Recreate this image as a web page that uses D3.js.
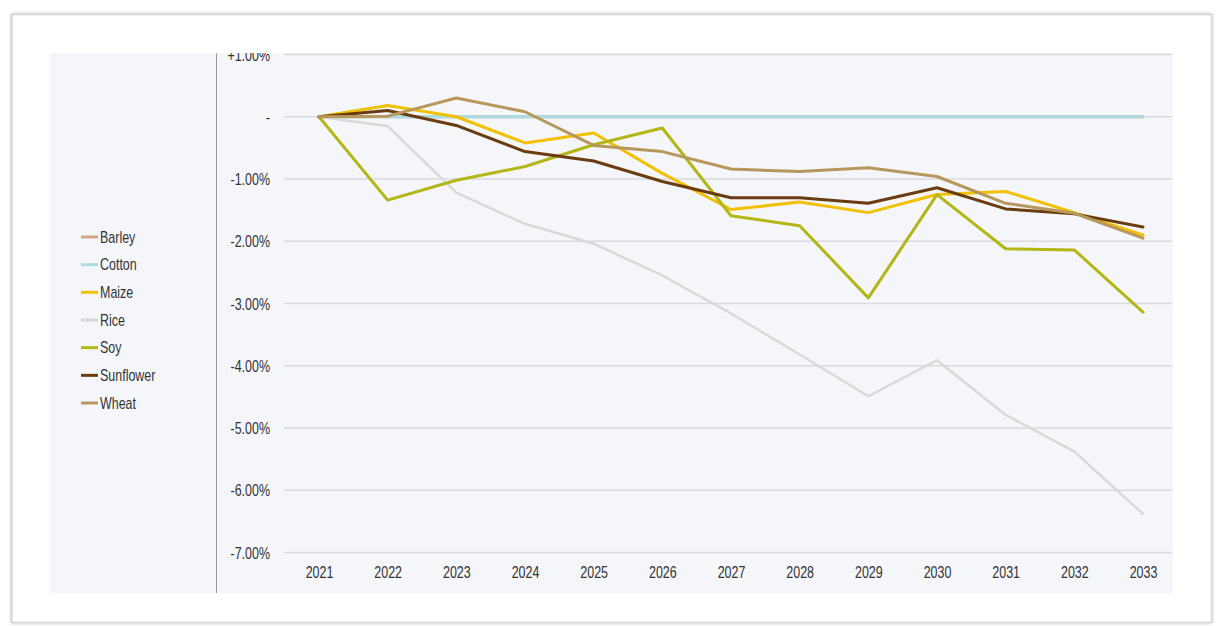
<!DOCTYPE html>
<html>
<head>
<meta charset="utf-8">
<script src="https://cdn.jsdelivr.net/npm/d3@7"></script>
<style>
  html, body { margin: 0; padding: 0; background: #ffffff; }
  svg { display: block; }
  text { font-family: "Liberation Sans", Arial, sans-serif; fill: #333333; }
</style>
</head>
<body>
<svg id="chart" width="1218" height="626"></svg>
<script>
// Years along the horizontal axis
const years = [2021, 2022, 2023, 2024, 2025, 2026, 2027, 2028, 2029, 2030, 2031, 2032, 2033];

// Percentage change per crop (in %)
const barley    = [0, 0, 0, 0, 0, 0, 0, 0, 0, 0, 0, 0, 0];
const cotton    = [0, 0, 0, 0, 0, 0, 0, 0, 0, 0, 0, 0, 0];
const maize     = [0, 0.18, 0.00, -0.42, -0.26, -0.91, -1.49, -1.37, -1.54, -1.25, -1.20, -1.54, -1.90];
const rice      = [0, -0.15, -1.22, -1.72, -2.04, -2.55, -3.16, -3.82, -4.49, -3.91, -4.79, -5.38, -6.38];
const soy       = [0, -1.34, -1.02, -0.80, -0.45, -0.18, -1.59, -1.75, -2.91, -1.25, -2.12, -2.14, -3.14];
const sunflower = [0, 0.10, -0.14, -0.56, -0.71, -1.04, -1.30, -1.30, -1.39, -1.14, -1.48, -1.56, -1.77];
const wheat     = [0, 0.01, 0.30, 0.08, -0.46, -0.56, -0.84, -0.88, -0.82, -0.96, -1.39, -1.55, -1.95];

const seriesNames  = ["Barley", "Cotton", "Maize", "Rice", "Soy", "Sunflower", "Wheat"];
const seriesValues = [barley, cotton, maize, rice, soy, sunflower, wheat];
const seriesColors = ["#d3a489", "#a9dde1", "#f1c000", "#d9d9d9", "#b3b614", "#6b3c10", "#b8975c"];
const seriesWidths = [3, 3, 3, 2.5, 3, 3, 3];

const yTicks = [1, 0, -1, -2, -3, -4, -5, -6, -7];
const yTickLabels = ["+1.00%", "-", "-1.00%", "-2.00%", "-3.00%", "-4.00%", "-5.00%", "-6.00%", "-7.00%"];

// Condensed look for all labels
const FONT_SIZE = "16px";
const NARROW = 0.78;

const svg = d3.select("#chart");

// Card with soft shadow
const defs = svg.append("defs");
const shadow = defs.append("filter").attr("id", "cardShadow")
  .attr("x", "-5%").attr("y", "-5%").attr("width", "110%").attr("height", "110%");
shadow.append("feGaussianBlur").attr("in", "SourceAlpha").attr("stdDeviation", 1.8);
shadow.append("feComponentTransfer").append("feFuncA").attr("type", "linear").attr("slope", 0.35);
const merge = shadow.append("feMerge");
merge.append("feMergeNode");
merge.append("feMergeNode").attr("in", "SourceGraphic");

svg.append("rect")
  .attr("x", 12).attr("y", 14.5).attr("width", 1199.5).attr("height", 608)
  .attr("fill", "#ffffff").attr("stroke", "#d4d4d4").attr("stroke-width", 1.5)
  .attr("filter", "url(#cardShadow)");

// Panel
const panel = { left: 50, top: 53, right: 1173, bottom: 593 };
svg.append("rect")
  .attr("x", panel.left).attr("y", panel.top)
  .attr("width", panel.right - panel.left).attr("height", panel.bottom - panel.top)
  .attr("fill", "#f5f6fa");

defs.append("clipPath").attr("id", "panelClip")
  .append("rect")
  .attr("x", panel.left).attr("y", panel.top)
  .attr("width", panel.right - panel.left).attr("height", panel.bottom - panel.top);

const g = svg.append("g").attr("clip-path", "url(#panelClip)");

// Scales
const x = d3.scalePoint().domain(years).range([319, 1143]);
const y = d3.scaleLinear().domain([-7, 1]).range([552.5, 54.5]);

// Gridlines
g.append("g").selectAll("line").data(yTicks).join("line")
  .attr("x1", 284).attr("x2", 1172)
  .attr("y1", d => y(d)).attr("y2", d => y(d))
  .attr("stroke", "#d9dadd").attr("stroke-width", 1.3);

// Y axis labels
const yAxis = d3.axisLeft(y).tickValues(yTicks)
  .tickFormat((d, i) => yTickLabels[i]).tickSize(0).tickPadding(0);
const yAxisG = g.append("g").attr("transform", "translate(270,0)").call(yAxis);
yAxisG.select(".domain").remove();
yAxisG.selectAll("text")
  .attr("x", 0).attr("dy", "0.35em")
  .attr("transform", `scale(${NARROW},1)`)
  .style("font-size", FONT_SIZE).style("font-family", null).attr("fill", "#333333");

// Vertical separator line
svg.append("line")
  .attr("x1", 216.5).attr("x2", 216.5).attr("y1", panel.top).attr("y2", panel.bottom)
  .attr("stroke", "#9a9a9a").attr("stroke-width", 1);

// X axis labels
const xAxis = d3.axisBottom(x).tickSize(0).tickPadding(0).tickFormat(d3.format("d"));
const xAxisG = g.append("g").attr("transform", "translate(0,577.5)").call(xAxis);
xAxisG.select(".domain").remove();
xAxisG.selectAll("text")
  .attr("y", 0).attr("dy", 0)
  .attr("transform", `scale(${NARROW},1)`)
  .style("font-size", FONT_SIZE).style("font-family", null).attr("fill", "#333333");

// Lines
const line = d3.line().x((d, i) => x(years[i])).y(d => y(d));
g.append("g").selectAll("path").data(seriesValues).join("path")
  .attr("d", d => line(d))
  .attr("fill", "none")
  .attr("stroke", (d, i) => seriesColors[i])
  .attr("stroke-width", (d, i) => seriesWidths[i])
  .attr("stroke-linejoin", "round")
  .attr("stroke-linecap", "round");

// Legend
const legend = svg.append("g");
const legendY = d3.scalePoint().domain(seriesNames).range([237, 403]);
const items = legend.selectAll("g").data(seriesNames).join("g")
  .attr("transform", d => `translate(0,${legendY(d)})`);
items.append("line")
  .attr("x1", 81).attr("x2", 98).attr("y1", 0).attr("y2", 0)
  .attr("stroke", (d, i) => seriesColors[i]).attr("stroke-width", 3);
items.append("text")
  .attr("transform", `translate(100,0) scale(${NARROW},1)`)
  .attr("dy", "0.35em")
  .style("font-size", FONT_SIZE).attr("fill", "#2f2f2f")
  .text(d => d);
</script>
</body>
</html>
